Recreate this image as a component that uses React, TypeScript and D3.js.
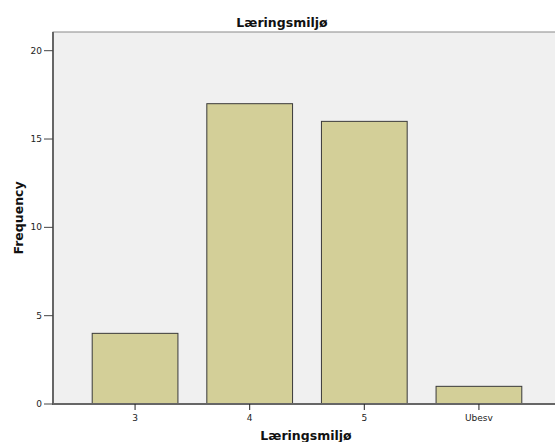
import React from "react";
import * as d3 from "d3";

const categories = ["3", "4", "5", "Ubesv"];
const frequencies = [4, 17, 16, 1];
const yTicks = [0, 5, 10, 15, 20];
const chartTitle = "Læringsmiljø";
const xTitle = "Læringsmiljø";
const yTitle = "Frequency";

const W = 555;
const H = 442;
const left = 53;
const right = 561;
const top = 32;
const bottom = 404;

export default function App() {
  const x = d3
    .scaleBand<string>()
    .domain(categories)
    .range([left, right])
    .paddingInner(0.252)
    .paddingOuter(0.342);
  const y = d3.scaleLinear().domain([0, 20]).range([bottom, 50.7]);
  const font = "'DejaVu Sans', Verdana, sans-serif";

  return (
    <svg
      width={W}
      height={H}
      style={{ position: "absolute", left: 0, top: 0, display: "block", background: "#fff" }}
      fontFamily={font}
    >
      <rect x={left} y={top} width={right - left} height={bottom - top} fill="#f0f0f0" stroke="#8a8a8a" strokeWidth={1} />
      <text x={282} y={27} textAnchor="middle" fontSize={12.5} fontWeight="bold" fill="#111">
        {chartTitle}
      </text>
      {categories.map((c, i) => (
        <rect
          key={c}
          x={x(c)}
          y={y(frequencies[i])}
          width={x.bandwidth()}
          height={y(0) - y(frequencies[i])}
          fill="#d3cf98"
          stroke="#3a3a3a"
          strokeWidth={1}
        />
      ))}
      {/* y axis */}
      <line x1={left} x2={left} y1={top} y2={bottom + 1} stroke="#666" strokeWidth={2} />
      {yTicks.map((t) => (
        <g key={t}>
          <line x1={left - 9} x2={left} y1={y(t)} y2={y(t)} stroke="#444" strokeWidth={1} />
          <text x={left - 11} y={y(t) + 3} textAnchor="end" fontSize={9} fill="#222">
            {t}
          </text>
        </g>
      ))}
      {/* x axis */}
      <line x1={left} x2={W} y1={bottom} y2={bottom} stroke="#666" strokeWidth={2} />
      {categories.map((c) => {
        const cx = (x(c) as number) + x.bandwidth() / 2;
        return (
          <g key={c}>
            <line x1={cx} x2={cx} y1={bottom} y2={bottom + 6} stroke="#222" strokeWidth={1} />
            <text x={cx} y={421} textAnchor="middle" fontSize={9} fill="#222">
              {c}
            </text>
          </g>
        );
      })}
      <text x={306} y={440} textAnchor="middle" fontSize={12.5} fontWeight="bold" fill="#111">
        {xTitle}
      </text>
      <text
        transform={`translate(23,218) rotate(-90)`}
        textAnchor="middle"
        fontSize={12.5}
        fontWeight="bold"
        fill="#111"
      >
        {yTitle}
      </text>
    </svg>
  );
}
